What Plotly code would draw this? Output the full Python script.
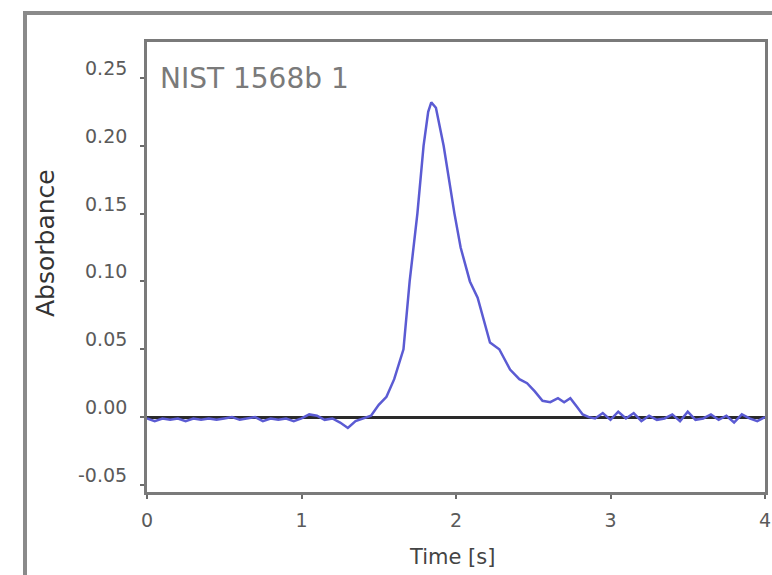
import plotly.graph_objects as go

# Time [s]
time_s = [0.00, 0.05, 0.10, 0.15, 0.20, 0.25, 0.30, 0.35, 0.40, 0.45, 0.50, 0.55, 0.60, 0.65,
          0.70, 0.75, 0.80, 0.85, 0.90, 0.95, 1.00, 1.05, 1.10, 1.15, 1.20, 1.25, 1.30, 1.35, 1.40,
          1.45, 1.50, 1.55, 1.60, 1.66, 1.70, 1.75, 1.79, 1.82, 1.84, 1.87, 1.92, 1.99,
          2.03, 2.09, 2.14, 2.22, 2.28, 2.35, 2.41, 2.46, 2.51, 2.56, 2.61, 2.66, 2.70,
          2.74, 2.78, 2.82, 2.86,
          2.90, 2.95, 3.00, 3.05, 3.10, 3.15, 3.20, 3.25, 3.30, 3.35, 3.40, 3.45, 3.50, 3.55, 3.60,
          3.65, 3.70, 3.75, 3.80, 3.85, 3.90, 3.95, 4.00]
# Absorbance
absorbance = [-0.001, -0.003, -0.001, -0.002, -0.001, -0.003, -0.001, -0.002, -0.001, -0.002,
              -0.001, 0.000, -0.002, -0.001, 0.000, -0.003, -0.001, -0.002, -0.001, -0.003,
              -0.001, 0.002, 0.001, -0.002, -0.001, -0.004, -0.008, -0.003, -0.001,
              0.001, 0.009, 0.015, 0.028, 0.050, 0.100, 0.150, 0.200, 0.225, 0.232, 0.228,
              0.200, 0.150, 0.125, 0.100, 0.088, 0.055, 0.050, 0.035, 0.028, 0.025, 0.019,
              0.012, 0.011, 0.014, 0.011, 0.014, 0.008, 0.002, 0.000,
              -0.001, 0.003, -0.002, 0.004, -0.001, 0.003, -0.003, 0.001, -0.002, -0.001, 0.002,
              -0.003, 0.004, -0.002, -0.001, 0.002, -0.002, 0.001, -0.004, 0.002, -0.001, -0.003,
              0.000]

x_ticks = [0, 1, 2, 3, 4]
y_ticks = [-0.05, 0.00, 0.05, 0.10, 0.15, 0.20, 0.25]
sample_label = "NIST 1568b 1"
x_title = "Time [s]"
y_title = "Absorbance"

W, H = 772, 575
L, R, T, B = 147, 7, 42, 83
pw, ph = W - L - R, H - T - B

def px_x(px):
    return (px - L) / pw

def px_y(py):
    return (H - B - py) / ph

fig = go.Figure()
fig.add_trace(go.Scatter(x=time_s, y=absorbance, mode="lines",
                         line=dict(color="#5b5bd3", width=2.5), showlegend=False))

axis_common = dict(showgrid=False, showline=True, linecolor="#7a7a7a", linewidth=3,
                   mirror=True, ticks="outside", ticklen=4, tickcolor="#6a6a6a", tickwidth=2)

tick_font = dict(family="DejaVu Sans", size=19, color="#5a5a5a")

annotations = [
    dict(text=sample_label, xref="paper", yref="paper", x=px_x(158), y=px_y(79),
         xanchor="left", yanchor="middle", showarrow=False,
         font=dict(family="DejaVu Sans", size=28, color="#7a7a7a")),
    dict(text=y_title, xref="paper", yref="paper", x=px_x(45), y=px_y(243),
         xanchor="center", yanchor="middle", textangle=-90, showarrow=False,
         font=dict(family="DejaVu Sans", size=25, color="#333333")),
    dict(text=x_title, xref="paper", yref="paper", x=px_x(452), y=px_y(557),
         xanchor="center", yanchor="middle", showarrow=False,
         font=dict(family="DejaVu Sans", size=21, color="#444444")),
]
for v in y_ticks:
    annotations.append(dict(text="%.2f" % v, xref="paper", yref="y", x=px_x(129), y=v,
                            yshift=10, xanchor="right", yanchor="middle", showarrow=False,
                            font=tick_font))

fig.update_layout(
    width=W, height=H,
    margin=dict(l=L, r=R, t=T, b=B, autoexpand=False),
    paper_bgcolor="white", plot_bgcolor="white",
    xaxis=dict(range=[0, 4], tickvals=x_ticks, ticktext=[str(v) for v in x_ticks],
               zeroline=False, ticklabelstandoff=5, tickfont=tick_font, **axis_common),
    yaxis=dict(range=[-0.0552, 0.2765], tickvals=y_ticks, showticklabels=False,
               zeroline=True, zerolinecolor="#2a2a2a", zerolinewidth=2.5, **axis_common),
    shapes=[
        dict(type="line", xref="paper", yref="paper", x0=px_x(25), x1=px_x(25),
             y0=px_y(12), y1=px_y(580), line=dict(color="#8a8a8a", width=4)),
        dict(type="line", xref="paper", yref="paper", x0=px_x(23), x1=px_x(780),
             y0=px_y(13), y1=px_y(13), line=dict(color="#8a8a8a", width=4)),
    ],
    annotations=annotations,
)

fig.write_html("out.html")
